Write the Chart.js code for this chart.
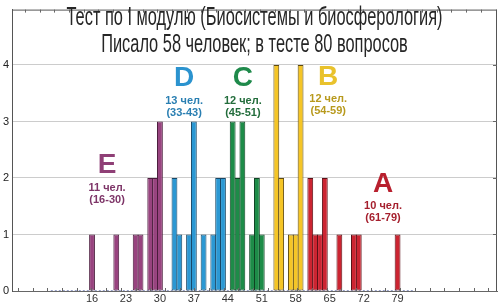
<!DOCTYPE html>
<html>
<head>
<meta charset="utf-8">
<script src="https://cdn.jsdelivr.net/npm/chart.js@4.4.1/dist/chart.umd.min.js"></script>
<style>
  html, body { margin: 0; padding: 0; background: #fff; }
  #wrap { width: 500px; height: 304px; }
</style>
</head>
<body>
<div id="wrap"><canvas id="chart"></canvas></div>
<script>
// баллы (число правильных ответов) и сколько человек их получили
const scores = [16, 21, 25, 26, 28, 29, 30, 33, 34, 36, 37, 39, 41, 42, 43, 45, 46, 47, 49, 50, 51, 54, 55, 57, 58, 59, 61, 62, 63, 64, 67, 70, 71, 79];
const counts = [1, 1, 1, 1, 2, 2, 3, 2, 1, 1, 3, 1, 1, 2, 2, 3, 2, 3, 1, 2, 1, 4, 2, 1, 1, 4, 2, 1, 1, 2, 1, 1, 1, 1];
// диапазон баллов, где пустые столбцы показаны линией по нулю
const zeroSpan = [7.5, 82.5];

// оценки
const groupLetters = ['E', 'D', 'C', 'B', 'A'];
const groupSizes = [11, 13, 12, 12, 10];
const groupRanges = [[16, 30], [33, 43], [45, 51], [54, 59], [61, 79]];

const xTickLabels = [16, 23, 30, 37, 44, 51, 58, 65, 72, 79];
const yTickLabels = [0, 1, 2, 3, 4];

const titleLines = ['Тест по I модулю (Биосистемы и биосферология)', 'Писало 58 человек; в тесте 80 вопросов'];

// стиль
const groupColors = ['#98437f', '#2b98d3', '#1d8c48', '#f5c526', '#cc2431'];
const groupBorders = ['#4a1c3c', '#174766', '#0f4424', '#5e4a10', '#5a1016'];
const letterColors = ['#8f3f76', '#2b93cf', '#1f8a4b', '#e9c22c', '#b8202e'];
const noteColors = ['#7e3568', '#2a7fb2', '#236d3c', '#b89a1e', '#a51f2d'];
// где подписать группы (в единицах осей)
const notePos = [[19.1, 2.22], [35.0, 3.76], [47.1, 3.76], [64.7, 3.78], [76.0, 1.89]];

function groupOf(score) {
    for (let i = 0; i < groupRanges.length; i++) {
        if (score >= groupRanges[i][0] && score <= groupRanges[i][1]) return i;
    }
    return 0;
}

const framePlugin = {
    id: 'frame',
    afterDraw(chart) {
        const ctx = chart.ctx;
        const a = chart.chartArea;
        const yScale = chart.scales.y;
        ctx.save();
        ctx.strokeStyle = '#555';
        ctx.lineWidth = 1;
        ctx.beginPath();
        ctx.moveTo(a.left, a.top + 0.5);
        ctx.lineTo(a.right, a.top + 0.5);
        ctx.moveTo(a.right - 0.5, a.top);
        ctx.lineTo(a.right - 0.5, a.bottom);
        ctx.stroke();
        // мелкие засечки по рамке
        ctx.strokeStyle = '#666';
        ctx.beginPath();
        const step = (a.right - a.left) / 33;
        for (let x = a.left + 6; x < a.right - 3; x += step) {
            const px = Math.round(x) + 0.5;
            ctx.moveTo(px, a.bottom);
            ctx.lineTo(px, a.bottom - 3);
        }
        for (let x = a.left + 13; x < a.right - 3; x += step) {
            const px = Math.round(x) + 0.5;
            ctx.moveTo(px, a.top);
            ctx.lineTo(px, a.top + 3);
        }
        yTickLabels.forEach(v => {
            const py = Math.round(yScale.getPixelForValue(v)) + 0.5;
            ctx.moveTo(a.right, py);
            ctx.lineTo(a.right - 4, py);
        });
        ctx.stroke();

        // заголовок
        ctx.fillStyle = '#262626';
        ctx.font = '25px "Liberation Sans", Arial, sans-serif';
        ctx.textAlign = 'center';
        ctx.textBaseline = 'middle';
        const sx = 376 / ctx.measureText(titleLines[0]).width;
        const cx = (a.left + a.right) / 2;
        [18, 45].forEach((y, i) => {
            ctx.save();
            ctx.translate(cx, y);
            ctx.scale(sx, 1);
            ctx.fillText(titleLines[i], 0, 0);
            ctx.restore();
        });
        ctx.restore();
    }
};

const notesPlugin = {
    id: 'notes',
    afterDatasetsDraw(chart) {
        const ctx = chart.ctx;
        const xs = chart.scales.x, ys = chart.scales.y;
        ctx.save();
        ctx.textAlign = 'center';
        ctx.textBaseline = 'middle';
        groupLetters.forEach((letter, i) => {
            const x = xs.getPixelForValue(notePos[i][0]);
            const y = ys.getPixelForValue(notePos[i][1]);
            ctx.fillStyle = letterColors[i];
            ctx.font = 'bold 28px "Liberation Sans", Arial, sans-serif';
            ctx.fillText(letter, x, y);
            ctx.fillStyle = noteColors[i];
            ctx.font = 'bold 11px "Liberation Sans", Arial, sans-serif';
            ctx.fillText(groupSizes[i] + ' чел.', x, y + 22);
            ctx.fillText('(' + groupRanges[i][0] + '-' + groupRanges[i][1] + ')', x, y + 34);
        });
        ctx.restore();
    }
};

const chart = new Chart(document.getElementById('chart'), {
    type: 'bar',
    data: {
        datasets: [{
            data: scores.map((s, i) => ({ x: s, y: counts[i] })),
            backgroundColor: c => groupColors[groupOf(scores[c.dataIndex])],
            borderColor: c => groupBorders[groupOf(scores[c.dataIndex])],
            borderWidth: 1,
            borderSkipped: false,
            categoryPercentage: 1,
            barPercentage: 1.2
        }, {
            type: 'line',
            data: zeroSpan.map(s => ({ x: s, y: 0 })),
            borderColor: '#2c3f8e',
            borderWidth: 1,
            borderDash: [2, 2],
            pointRadius: 0
        }]
    },
    options: {
        responsive: true,
        maintainAspectRatio: false,
        animation: false,
        layout: { padding: { top: 1, right: 3, left: 0, bottom: 0 } },
        plugins: {
            legend: { display: false },
            tooltip: { enabled: false },
            title: { display: false }
        },
        scales: {
            x: {
                type: 'linear',
                offset: false,
                min: -0.5,
                max: 99.5,
                afterBuildTicks: scale => { scale.ticks = xTickLabels.map(v => ({ value: v })); },
                afterFit: scale => { scale.height = 13; },
                grid: { display: false, drawTicks: false },
                border: { display: true, color: '#666', width: 1 },
                ticks: {
                    autoSkip: false,
                    maxRotation: 0,
                    padding: 1,
                    color: '#333',
                    font: { family: '"Liberation Sans", Arial, sans-serif', size: 11 }
                }
            },
            y: {
                min: 0,
                max: 4.98,
                afterBuildTicks: scale => { scale.ticks = yTickLabels.map(v => ({ value: v })); },
                afterFit: scale => { scale.width = 12; },
                grid: {
                    drawTicks: false,
                    color: c => c.tick && c.tick.value === 0 ? 'rgba(0,0,0,0)' : '#cccccc'
                },
                border: { display: true, color: '#555', width: 1 },
                ticks: {
                    padding: 3,
                    color: '#222',
                    font: { family: '"Liberation Sans", Arial, sans-serif', size: 11 }
                }
            }
        }
    },
    plugins: [framePlugin, notesPlugin]
});
</script>
</body>
</html>
